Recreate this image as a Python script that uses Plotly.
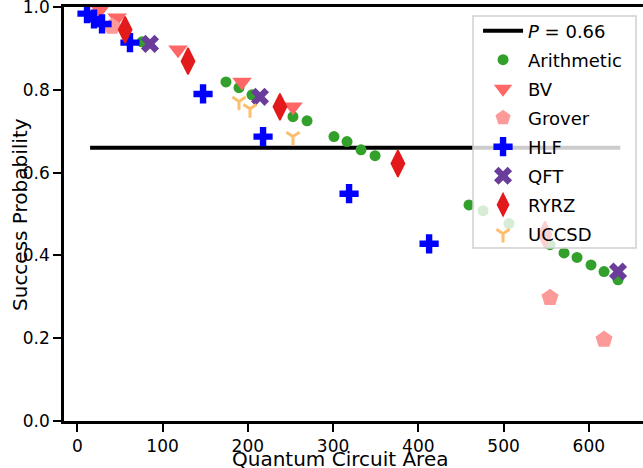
import plotly.graph_objects as go

# ---- data ----
p_thresh = 0.66
thresh_area = [15, 637]

arith_area = [75.9, 174.4, 189.7, 204.9, 253.0, 269.5, 301.1, 316.4, 332.8, 349.3,
              459.5, 476.0, 506.4, 554.5, 571.0, 586.2, 602.6, 617.9, 634.3]
arith_prob = [0.916, 0.819, 0.805, 0.788, 0.735, 0.725, 0.687, 0.675, 0.655, 0.641,
              0.522, 0.508, 0.477, 0.426, 0.406, 0.395, 0.377, 0.361, 0.341]

bv_area = [26.6, 46.7, 118.2, 193.2, 253.0]
bv_prob = [0.993, 0.974, 0.897, 0.819, 0.759]

grover_area = [40.8, 554.5, 617.9]
grover_prob = [0.953, 0.298, 0.197]

hlf_area = [11.4, 19.6, 29.0, 61.8, 147.5, 217.9, 318.8, 412.7]
hlf_prob = [0.984, 0.971, 0.959, 0.914, 0.790, 0.687, 0.549, 0.428]

qft_area = [85.3, 214.3, 634.3]
qft_prob = [0.911, 0.783, 0.361]

ryrz_area = [56.1, 129.9, 237.7, 376.1, 548.6]
ryrz_prob = [0.945, 0.869, 0.759, 0.622, 0.450]

uccsd_area = [189.7, 202.6, 253.0]
uccsd_prob = [0.772, 0.754, 0.687]

x_ticks = [0, 100, 200, 300, 400, 500, 600]
y_ticks = [0.0, 0.2, 0.4, 0.6, 0.8, 1.0]

FONT = "DejaVu Sans"

fig = go.Figure()
fig.add_trace(go.Scatter(x=thresh_area, y=[p_thresh, p_thresh], mode="lines",
                         line=dict(color="black", width=4),
                         name="<i>P</i> = 0.66", legendgroup="g0"))

series = [
    ("Arithmetic", arith_area, arith_prob, dict(symbol="circle", size=11, color="#33a02c")),
    ("BV", bv_area, bv_prob, dict(symbol="triangle-down", size=17, color="#ff6666")),
    ("Grover", grover_area, grover_prob, dict(symbol="pentagon", size=18, color="#fb9a99")),
    ("HLF", hlf_area, hlf_prob, dict(symbol="cross", size=16, color="#0000ff")),
    ("QFT", qft_area, qft_prob, dict(symbol="x", size=16, color="#6a3d9a")),
    ("RYRZ", ryrz_area, ryrz_prob, dict(symbol="diamond-tall", size=19, color="#e31a1c",
                                        line=dict(width=1.5, color="#e31a1c"))),
    ("UCCSD", uccsd_area, uccsd_prob, dict(symbol="y-down", size=11, color="#fdbf6f",
                                           line=dict(width=3, color="#fdbf6f"))),
]
for i, (name, xs, ys, mk) in enumerate(series):
    fig.add_trace(go.Scatter(x=xs, y=ys, mode="markers", marker=mk, name=name,
                             legendgroup="g%d" % (i + 1)))

axis_common = dict(showline=True, linewidth=2.5, linecolor="black", ticks="outside",
                   ticklen=8, tickwidth=2, tickcolor="black", showgrid=False,
                   zeroline=False, automargin=False, ticklabeloverflow="allow",
                   tickfont=dict(family=FONT, size=17, color="black"))

fig.update_layout(
    width=643, height=468,
    margin=dict(l=64, r=0, t=7, b=47),
    plot_bgcolor="white", paper_bgcolor="white",
    font=dict(family=FONT, color="black"),
    xaxis=dict(range=[-15.6, 663.6], tickvals=x_ticks, mirror=True, **axis_common),
    yaxis=dict(range=[0, 1], tickvals=y_ticks, tickformat=".1f", **axis_common),
    legend=dict(x=0.7151, y=0.9867, xanchor="left", yanchor="top",
                bgcolor="rgba(0,0,0,0)", borderwidth=0, itemwidth=40,
                font=dict(family=FONT, size=18, color="black"), tracegroupgap=2.6),
    shapes=[
        dict(type="rect", xref="paper", yref="paper", x0=0.7064, x1=0.9879,
             y0=0.4179, y1=0.9783, line=dict(color="#d0d0d0", width=1.5),
             fillcolor="rgba(255,255,255,0.8)", layer="above"),
    ],
    annotations=[
        dict(text="Quantum Circuit Area", xref="paper", yref="paper", x=0.476, y=-0.092,
             xanchor="center", yanchor="middle", showarrow=False,
             font=dict(family=FONT, size=20, color="black")),
        dict(text="Success Probability", xref="paper", yref="paper", x=-0.076, y=0.5,
             xanchor="center", yanchor="middle", textangle=-90, showarrow=False,
             font=dict(family=FONT, size=20, color="black")),
    ],
    showlegend=True,
)

fig.write_html("out.html", config={"displayModeBar": False},
               post_script="document.body.style.margin='0';")
